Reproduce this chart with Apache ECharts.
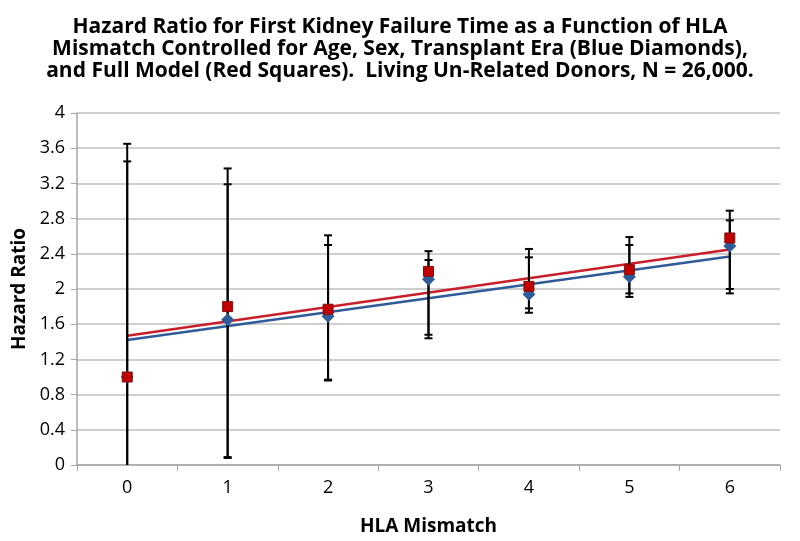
<!DOCTYPE html>
<html>
<head>
<meta charset="utf-8">
<script src="https://cdn.jsdelivr.net/npm/echarts@6/dist/echarts.min.js"></script>
<style>html,body{margin:0;padding:0;background:#fff;}#c{width:800px;height:541px;}</style>
</head>
<body>
<div id="c"></div>
<script>
var categories = ['0', '1', '2', '3', '4', '5', '6'];
var blueValues = [1.0, 1.65, 1.69, 2.11, 1.94, 2.14, 2.49];
var redValues = [1.0, 1.80, 1.77, 2.20, 2.03, 2.22, 2.58];
var blueLow = [-0.1, 0.08, 0.96, 1.44, 1.73, 1.91, 1.95];
var blueHigh = [3.45, 3.19, 2.50, 2.33, 2.36, 2.50, 2.78];
var redLow = [-0.1, 0.09, 0.97, 1.48, 1.78, 1.95, 2.00];
var redHigh = [3.65, 3.37, 2.61, 2.43, 2.455, 2.59, 2.89];
var blueTrend = [[0, 1.42], [6, 2.37]];
var redTrend = [[0, 1.47], [6, 2.45]];
var yTicks = ['0', '0.4', '0.8', '1.2', '1.6', '2', '2.4', '2.8', '3.2', '3.6', '4'];

var errData = [];
for (var i = 0; i < categories.length; i++) {
  errData.push([i, blueLow[i], blueHigh[i]]);
  errData.push([i, redLow[i], redHigh[i]]);
}

function renderErr(params, api) {
  var x = api.value(0);
  var lo = api.coord([x, api.value(1)]);
  var hi = api.coord([x, api.value(2)]);
  var w = 4;
  var st = {stroke: '#000', lineWidth: 2};
  return {
    type: 'group',
    children: [
      {type: 'line', shape: {x1: lo[0], y1: lo[1], x2: hi[0], y2: hi[1]}, style: st},
      {type: 'line', shape: {x1: hi[0] - w, y1: hi[1], x2: hi[0] + w, y2: hi[1]}, style: st},
      {type: 'line', shape: {x1: lo[0] - w, y1: lo[1], x2: lo[0] + w, y2: lo[1]}, style: st}
    ]
  };
}

var chart = echarts.init(document.getElementById('c'));
var font = 'Open Sans';
chart.setOption({
  animation: false,
  backgroundColor: '#fff',
  title: {
    text: 'Hazard Ratio for First Kidney Failure Time as a Function of HLA\nMismatch Controlled for Age, Sex, Transplant Era (Blue Diamonds),\nand Full Model (Red Squares).  Living Un-Related Donors, N = 26,000.',
    left: 'center',
    top: 11,
    textStyle: {fontFamily: font, fontWeight: 'bold', fontSize: 21, lineHeight: 22, color: '#000'}
  },
  grid: {left: 77, right: 20, top: 113, bottom: 70, containLabel: false},
  xAxis: {
    type: 'category',
    data: categories,
    boundaryGap: true,
    name: 'HLA Mismatch',
    nameLocation: 'middle',
    nameGap: 52,
    nameTextStyle: {fontFamily: font, fontWeight: 'bold', fontSize: 19, color: '#000'},
    axisLine: {lineStyle: {color: '#A6A6A6', width: 1.5}},
    axisTick: {show: true, alignWithLabel: false, length: 6, lineStyle: {color: '#A6A6A6'}},
    axisLabel: {fontFamily: font, fontSize: 18, color: '#000', margin: 14},
    splitLine: {show: false}
  },
  yAxis: {
    type: 'value',
    min: 0,
    max: 4,
    interval: 0.4,
    name: 'Hazard Ratio',
    nameLocation: 'middle',
    nameGap: 48,
    nameRotate: 90,
    nameTextStyle: {fontFamily: font, fontWeight: 'bold', fontSize: 19, color: '#000'},
    axisLine: {show: true, lineStyle: {color: '#A6A6A6', width: 1.5}},
    axisTick: {show: true, length: 6, lineStyle: {color: '#A6A6A6'}},
    axisLabel: {
      fontFamily: font, fontSize: 18, color: '#000', margin: 12,
      formatter: function (v) { var idx = Math.round(v / 0.4); return yTicks[idx]; }
    },
    splitLine: {show: true, lineStyle: {color: '#BFBFBF', width: 1.5}}
  },
  series: [
    {
      type: 'line', data: blueTrend, symbol: 'none', silent: true, z: 2,
      lineStyle: {color: '#2F5C99', width: 2.5}
    },
    {
      type: 'line', data: redTrend, symbol: 'none', silent: true, z: 2,
      lineStyle: {color: '#C8202A', width: 2.5}
    },
    {
      type: 'custom', renderItem: renderErr, data: errData, clip: true, z: 3,
      encode: {x: 0, y: [1, 2]}
    },
    {
      type: 'line', data: blueValues, symbol: 'diamond', symbolSize: [13, 13],
      lineStyle: {width: 0, opacity: 0}, z: 4,
      itemStyle: {color: '#2F5C99', borderColor: '#2F5C99', borderWidth: 0}
    },
    {
      type: 'line', data: redValues, symbol: 'rect', symbolSize: 10,
      lineStyle: {width: 0, opacity: 0}, z: 5,
      itemStyle: {color: '#C00000', borderColor: '#7F1010', borderWidth: 1}
    }
  ]
});
</script>
</body>
</html>
